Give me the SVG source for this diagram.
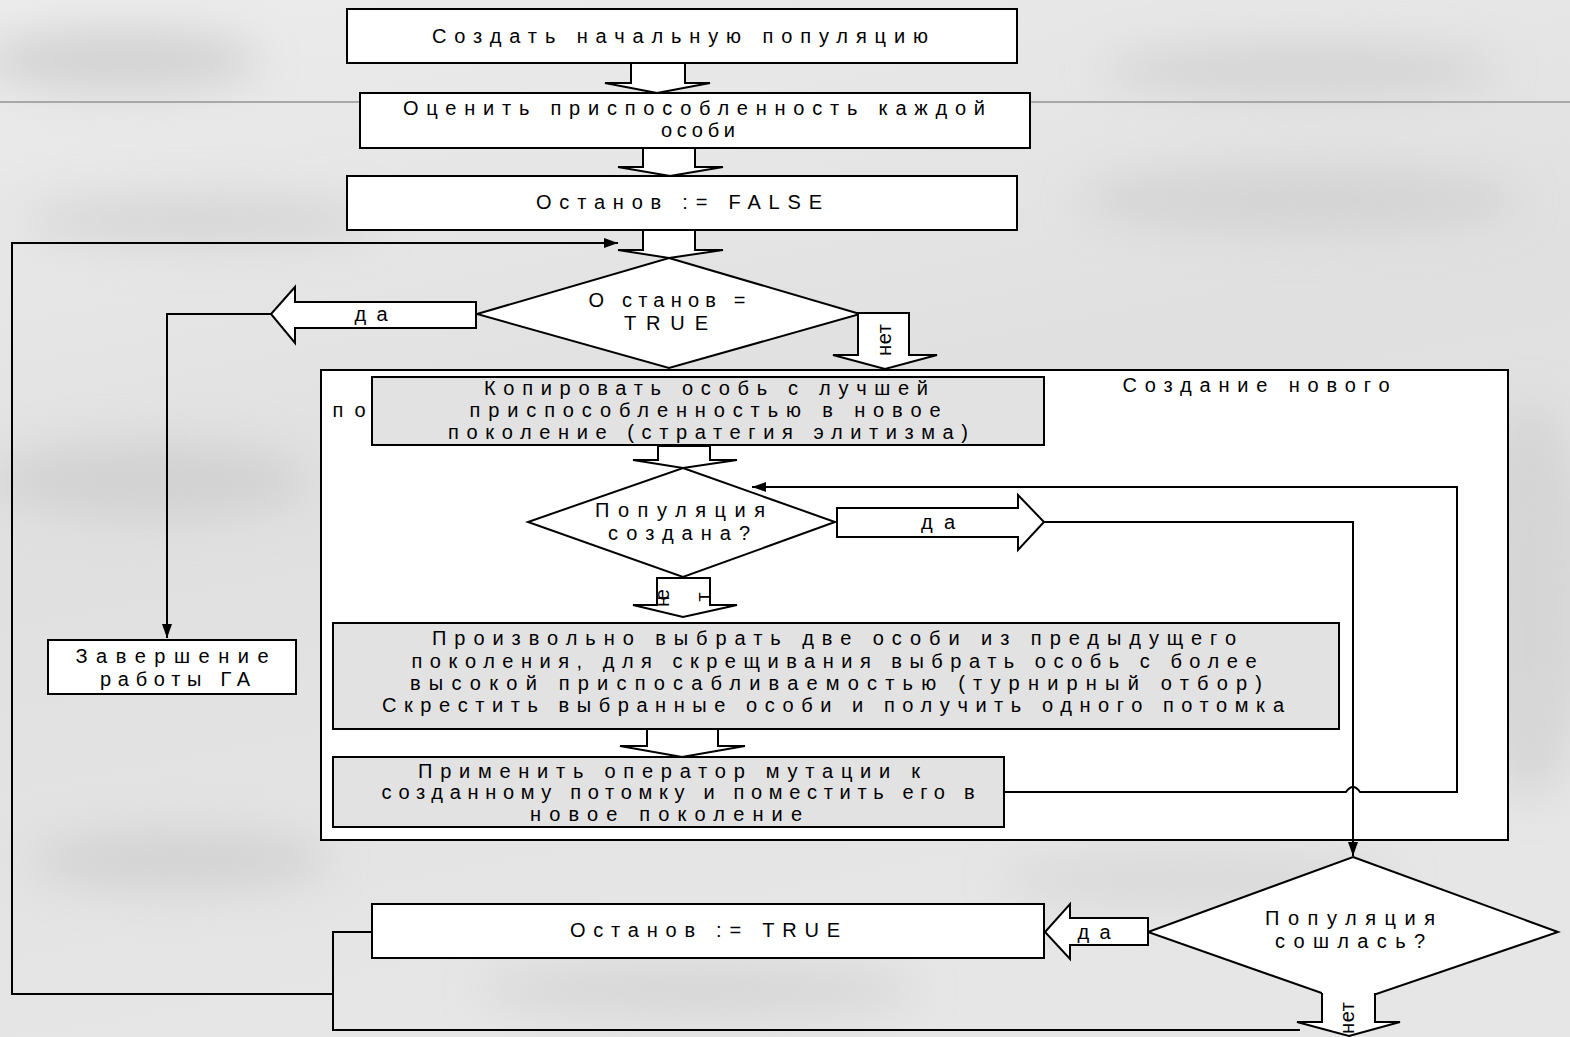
<svg xmlns="http://www.w3.org/2000/svg" width="1570" height="1037" viewBox="0 0 1570 1037">
<defs>
<linearGradient id="bg" x1="0" y1="0" x2="0.3" y2="1">
<stop offset="0" stop-color="#ececec"/>
<stop offset="0.5" stop-color="#e0e0e0"/>
<stop offset="1" stop-color="#e6e6e6"/>
</linearGradient>
<filter id="blur" x="-50%" y="-50%" width="200%" height="200%"><feGaussianBlur stdDeviation="22"/></filter>
<marker id="ah" viewBox="0 0 14 10" refX="14" refY="5" markerWidth="14" markerHeight="10" markerUnits="userSpaceOnUse" orient="auto">
<path d="M0,0 L14,5 L0,10 Z" fill="#000"/>
</marker>
<style>
.box{fill:#fff;stroke:#000;stroke-width:2}
.gbox{fill:#e2e2e2;stroke:#000;stroke-width:2}
.blk{fill:#fff;stroke:#000;stroke-width:2;stroke-linejoin:miter}
.ln{fill:none;stroke:#000;stroke-width:2}
.t{font-family:"Liberation Sans",Arial,sans-serif;font-size:20px;fill:#000;text-anchor:middle;dominant-baseline:central;lengthAdjust:spacing}
</style>
</defs>
<g id="background">
<rect width="1570" height="1037" fill="url(#bg)"/>
<g filter="url(#blur)" opacity="0.55">
<ellipse cx="120" cy="60" rx="140" ry="30" fill="#bdbdbd"/>
<ellipse cx="1300" cy="70" rx="200" ry="25" fill="#c4c4c4"/>
<ellipse cx="200" cy="220" rx="180" ry="25" fill="#c8c8c8"/>
<ellipse cx="150" cy="480" rx="160" ry="40" fill="#c6c6c6"/>
<ellipse cx="180" cy="860" rx="150" ry="30" fill="#c4c4c4"/>
<ellipse cx="700" cy="990" rx="220" ry="25" fill="#c8c8c8"/>
<ellipse cx="1300" cy="200" rx="220" ry="35" fill="#c8c8c8"/>
<ellipse cx="1530" cy="600" rx="60" ry="200" fill="#cacaca"/>
<ellipse cx="1200" cy="880" rx="200" ry="25" fill="#cdcdcd"/>
</g>
<line x1="0" y1="102" x2="1570" y2="102" stroke="#a8a8a8" stroke-width="2"/>
</g>

<g id="frame">
<rect x="321" y="370" width="1187" height="470" fill="#fff" stroke="#000" stroke-width="2"/>
<text class="t" x="1256" y="385" textLength="267">Создание нового</text>
<text class="t" x="349" y="410" textLength="33">по</text>
</g>

<g id="connectors">
<polyline class="ln" points="271,314 167,314 167,638" marker-end="url(#ah)"/>
<polyline class="ln" points="1044,522 1353,522 1353,856" marker-end="url(#ah)"/>
<path class="ln" d="M1004,792 H1346 Q1353,782 1360,792 H1457 V487 H752" marker-end="url(#ah)"/>
<polyline class="ln" points="1300,1030 333,1030 333,932 372,932"/>
<polyline class="ln" points="333,994 12,994 12,243 618,243" marker-end="url(#ah)"/>
</g>

<g id="arrow1"><polygon class="blk" points="631,63 685,63 685,83 710,83 657,93 605,83 631,83"/></g>
<g id="arrow2"><polygon class="blk" points="643,148 695,148 695,167 723,167 670,176 618,167 643,167"/></g>
<g id="arrow3"><polygon class="blk" points="643,230 695,230 695,250 723,250 669,258 618,250 643,250"/></g>

<g id="n1"><rect class="box" x="347" y="9" width="670" height="54"/>
<text class="t" x="680" y="36" textLength="496">Создать начальную популяцию</text></g>
<g id="n2"><rect class="box" x="360" y="93" width="670" height="55"/>
<text class="t" x="694" y="108" textLength="582">Оценить приспособленность каждой</text>
<text class="t" x="698" y="130" textLength="74">особи</text></g>
<g id="n3"><rect class="box" x="347" y="176" width="670" height="54"/>
<text class="t" x="679" y="202" textLength="286">Останов := FALSE</text></g>

<g id="d1"><polygon class="box" points="669,258 860,314 669,368 477,314"/>
<text class="t" x="667" y="300" textLength="157">О станов =</text>
<text class="t" x="666" y="323" textLength="84">TRUE</text></g>

<g id="yes1"><polygon class="blk" points="476,302 295,302 295,287 271,314 295,343 295,328 476,328"/>
<text class="t" x="371" y="314" textLength="33">да</text></g>

<g id="no1"><polygon class="blk" points="858,313 909,313 909,355 937,355 885,369 833,355 858,355"/>
<text class="t" transform="translate(884,340) rotate(-90)" x="0" y="0" textLength="32">нет</text></g>

<g id="end"><rect class="box" x="48" y="640" width="248" height="54"/>
<text class="t" x="172" y="656" textLength="193">Завершение</text>
<text class="t" x="175" y="679" textLength="150">работы ГА</text></g>

<g id="g1"><rect class="gbox" x="372" y="377" width="672" height="68"/>
<text class="t" x="706" y="388" textLength="444">Копировать особь с лучшей</text>
<text class="t" x="705" y="410" textLength="471">приспособленностью в новое</text>
<text class="t" x="708" y="432" textLength="520">поколение (стратегия элитизма)</text></g>

<g id="arrow4"><polygon class="blk" points="658,446 710,446 710,460 737,460 683,468 633,460 658,460"/></g>

<g id="d2"><polygon class="box" points="683,468 835,522 683,577 528,522"/>
<text class="t" x="680" y="510" textLength="170">Популяция</text>
<text class="t" x="679" y="533" textLength="142">создана?</text></g>

<g id="yes2"><polygon class="blk" points="837,508 1018,508 1018,495 1044,522 1018,550 1018,537 837,537"/>
<text class="t" x="938" y="522" textLength="34">да</text></g>

<g id="no2"><polygon class="blk" points="657,578 710,578 710,605 737,605 683,617 633,605 657,605"/>
<text class="t" transform="translate(662,598) rotate(-90)" x="0" y="0" textLength="18">не</text>
<text class="t" transform="translate(703,597) rotate(-90)" x="0" y="0" textLength="9">т</text></g>

<g id="g2"><rect class="gbox" x="333" y="623" width="1006" height="106"/>
<text class="t" x="834" y="638" textLength="804">Произвольно выбрать две особи  из предыдущего</text>
<text class="t" x="834" y="661" textLength="845">поколения, для скрещивания выбрать особь с более</text>
<text class="t" x="836" y="683" textLength="852">высокой приспосабливаемостью (турнирный отбор)</text>
<text class="t" x="833" y="705" textLength="902">Скрестить выбранные особи и получить одного потомка</text></g>

<g id="arrow5"><polygon class="blk" points="647,729 718,729 718,746 745,746 682,757 620,746 647,746"/></g>

<g id="g3"><rect class="gbox" x="333" y="757" width="671" height="70"/>
<text class="t" x="669" y="771" textLength="502">Применить оператор мутации к</text>
<text class="t" x="678" y="792" textLength="593">созданному потомку и поместить его в</text>
<text class="t" x="666" y="814" textLength="272">новое поколение</text></g>

<g id="d3"><polygon class="box" points="1353,857 1558,932 1350,1003 1148,932"/>
<text class="t" x="1350" y="918" textLength="170">Популяция</text>
<text class="t" x="1350" y="941" textLength="150">сошлась?</text></g>

<g id="yes3"><polygon class="blk" points="1148,918 1070,918 1070,904 1045,932 1070,959 1070,945 1148,945"/>
<text class="t" x="1094" y="932" textLength="33">да</text></g>

<g id="n4"><rect class="box" x="372" y="904" width="672" height="54"/>
<text class="t" x="705" y="930" textLength="270">Останов := TRUE</text></g>

<g id="no3"><polygon fill="#fff" points="1322,990 1375,990 1375,1022 1400,1022 1349,1036 1297,1022 1322,1022"/>
<polyline class="ln" points="1322,993 1322,1022 1297,1022 1349,1036 1400,1022 1375,1022 1375,993"/>
<text class="t" transform="translate(1347,1018) rotate(-90)" x="0" y="0" textLength="32">нет</text></g>
</svg>
